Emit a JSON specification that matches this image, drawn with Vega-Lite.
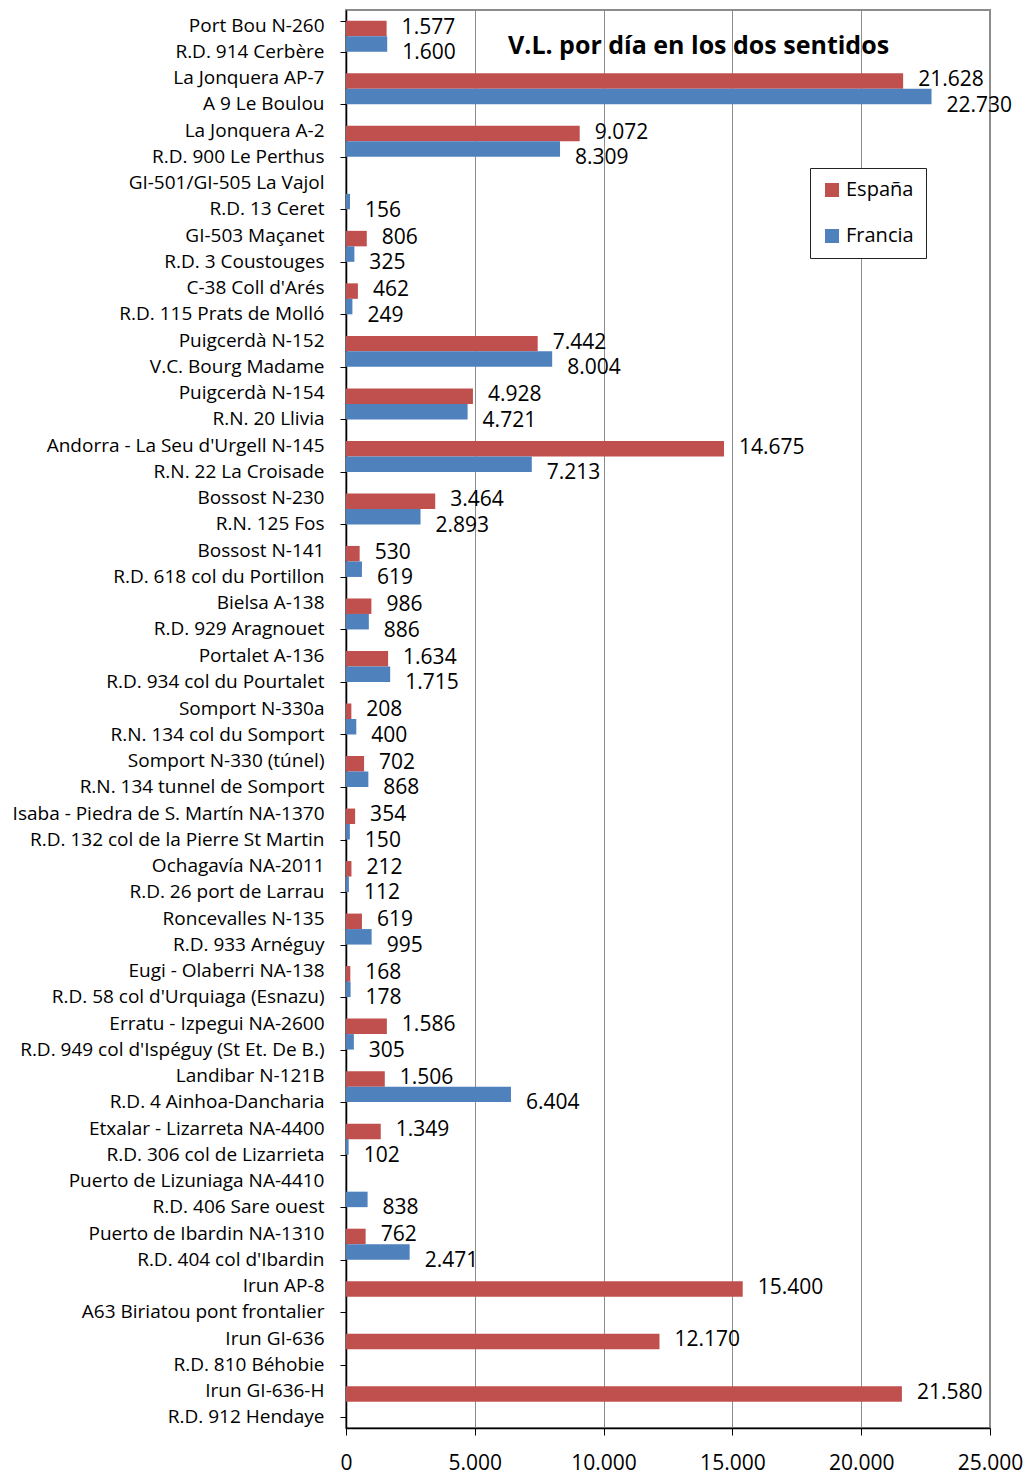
{
  "$schema": "https://vega.github.io/schema/vega-lite/v6.json",
  "autosize": "none",
  "width": 644,
  "height": 1418,
  "padding": {"left": 346, "top": 10, "right": 45, "bottom": 46},
  "background": "white",
  "title": {
    "text": "V.L. por día en los dos sentidos",
    "orient": "top",
    "anchor": "start",
    "frame": "group",
    "dx": 162,
    "offset": -58,
    "font": "Open Sans",
    "fontSize": 25,
    "fontWeight": "bold",
    "color": "black"
  },
  "data": {
    "values": [
      {"grupo": "Port Bou N-260|R.D. 914 Cerbère", "serie": "España", "valor": 1577},
      {"grupo": "Port Bou N-260|R.D. 914 Cerbère", "serie": "Francia", "valor": 1600},
      {"grupo": "La Jonquera AP-7|A 9 Le Boulou", "serie": "España", "valor": 21628},
      {"grupo": "La Jonquera AP-7|A 9 Le Boulou", "serie": "Francia", "valor": 22730},
      {"grupo": "La Jonquera A-2|R.D. 900 Le Perthus", "serie": "España", "valor": 9072},
      {"grupo": "La Jonquera A-2|R.D. 900 Le Perthus", "serie": "Francia", "valor": 8309},
      {"grupo": "GI-501/GI-505 La Vajol|R.D. 13 Ceret", "serie": "Francia", "valor": 156},
      {"grupo": "GI-503 Maçanet|R.D. 3 Coustouges", "serie": "España", "valor": 806},
      {"grupo": "GI-503 Maçanet|R.D. 3 Coustouges", "serie": "Francia", "valor": 325},
      {"grupo": "C-38 Coll d'Arés|R.D. 115 Prats de Molló", "serie": "España", "valor": 462},
      {"grupo": "C-38 Coll d'Arés|R.D. 115 Prats de Molló", "serie": "Francia", "valor": 249},
      {"grupo": "Puigcerdà N-152|V.C. Bourg Madame", "serie": "España", "valor": 7442},
      {"grupo": "Puigcerdà N-152|V.C. Bourg Madame", "serie": "Francia", "valor": 8004},
      {"grupo": "Puigcerdà N-154|R.N. 20 Llivia", "serie": "España", "valor": 4928},
      {"grupo": "Puigcerdà N-154|R.N. 20 Llivia", "serie": "Francia", "valor": 4721},
      {"grupo": "Andorra - La Seu d'Urgell N-145|R.N. 22 La Croisade", "serie": "España", "valor": 14675},
      {"grupo": "Andorra - La Seu d'Urgell N-145|R.N. 22 La Croisade", "serie": "Francia", "valor": 7213},
      {"grupo": "Bossost N-230|R.N. 125 Fos", "serie": "España", "valor": 3464},
      {"grupo": "Bossost N-230|R.N. 125 Fos", "serie": "Francia", "valor": 2893},
      {"grupo": "Bossost N-141|R.D. 618 col du Portillon", "serie": "España", "valor": 530},
      {"grupo": "Bossost N-141|R.D. 618 col du Portillon", "serie": "Francia", "valor": 619},
      {"grupo": "Bielsa A-138|R.D. 929 Aragnouet", "serie": "España", "valor": 986},
      {"grupo": "Bielsa A-138|R.D. 929 Aragnouet", "serie": "Francia", "valor": 886},
      {"grupo": "Portalet A-136|R.D. 934 col du Pourtalet", "serie": "España", "valor": 1634},
      {"grupo": "Portalet A-136|R.D. 934 col du Pourtalet", "serie": "Francia", "valor": 1715},
      {"grupo": "Somport N-330a|R.N. 134 col du Somport", "serie": "España", "valor": 208},
      {"grupo": "Somport N-330a|R.N. 134 col du Somport", "serie": "Francia", "valor": 400},
      {"grupo": "Somport N-330 (túnel)|R.N. 134 tunnel de Somport", "serie": "España", "valor": 702},
      {"grupo": "Somport N-330 (túnel)|R.N. 134 tunnel de Somport", "serie": "Francia", "valor": 868},
      {"grupo": "Isaba - Piedra de S. Martín NA-1370|R.D. 132 col de la Pierre St Martin", "serie": "España", "valor": 354},
      {"grupo": "Isaba - Piedra de S. Martín NA-1370|R.D. 132 col de la Pierre St Martin", "serie": "Francia", "valor": 150},
      {"grupo": "Ochagavía NA-2011|R.D. 26 port de Larrau", "serie": "España", "valor": 212},
      {"grupo": "Ochagavía NA-2011|R.D. 26 port de Larrau", "serie": "Francia", "valor": 112},
      {"grupo": "Roncevalles N-135|R.D. 933 Arnéguy", "serie": "España", "valor": 619},
      {"grupo": "Roncevalles N-135|R.D. 933 Arnéguy", "serie": "Francia", "valor": 995},
      {"grupo": "Eugi - Olaberri NA-138|R.D. 58 col d'Urquiaga (Esnazu)", "serie": "España", "valor": 168},
      {"grupo": "Eugi - Olaberri NA-138|R.D. 58 col d'Urquiaga (Esnazu)", "serie": "Francia", "valor": 178},
      {"grupo": "Erratu - Izpegui NA-2600|R.D. 949 col d'Ispéguy (St Et. De B.)", "serie": "España", "valor": 1586},
      {"grupo": "Erratu - Izpegui NA-2600|R.D. 949 col d'Ispéguy (St Et. De B.)", "serie": "Francia", "valor": 305},
      {"grupo": "Landibar N-121B|R.D. 4 Ainhoa-Dancharia", "serie": "España", "valor": 1506},
      {"grupo": "Landibar N-121B|R.D. 4 Ainhoa-Dancharia", "serie": "Francia", "valor": 6404},
      {"grupo": "Etxalar - Lizarreta NA-4400|R.D. 306 col de Lizarrieta", "serie": "España", "valor": 1349},
      {"grupo": "Etxalar - Lizarreta NA-4400|R.D. 306 col de Lizarrieta", "serie": "Francia", "valor": 102},
      {"grupo": "Puerto de Lizuniaga NA-4410|R.D. 406 Sare ouest", "serie": "Francia", "valor": 838},
      {"grupo": "Puerto de Ibardin NA-1310|R.D. 404 col d'Ibardin", "serie": "España", "valor": 762},
      {"grupo": "Puerto de Ibardin NA-1310|R.D. 404 col d'Ibardin", "serie": "Francia", "valor": 2471},
      {"grupo": "Irun AP-8|A63 Biriatou pont frontalier", "serie": "España", "valor": 15400},
      {"grupo": "Irun GI-636|R.D. 810 Béhobie", "serie": "España", "valor": 12170},
      {"grupo": "Irun GI-636-H|R.D. 912 Hendaye", "serie": "España", "valor": 21580}
    ]
  },
  "encoding": {
    "y": {
      "field": "grupo",
      "type": "nominal",
      "sort": null,
      "scale": {"paddingInner": 0.41, "paddingOuter": 0.205},
      "axis": {
        "title": null,
        "labelExpr": "split(datum.label, '|')",
        "labelFont": "Open Sans",
        "labelFontSize": 19,
        "labelColor": "black",
        "labelAlign": "right",
        "labelBaseline": "middle",
        "labelLineHeight": 26,
        "labelOffset": -11,
        "labelPadding": 16,
        "labelLimit": 500,
        "tickBand": "extent",
        "tickSize": 6,
        "tickColor": "black",
        "domainColor": "black",
        "domainWidth": 1.5,
        "grid": false
      }
    },
    "yOffset": {"field": "serie", "type": "nominal", "sort": ["España", "Francia"]},
    "x": {
      "field": "valor",
      "type": "quantitative",
      "scale": {"domain": [0, 25000], "nice": false},
      "axis": {
        "title": null,
        "values": [0, 5000, 10000, 15000, 20000, 25000],
        "format": ",d",
        "labelFont": "Open Sans",
        "labelFontSize": 21,
        "labelColor": "black",
        "labelPadding": 17,
        "labelFlush": false,
        "tickSize": 7,
        "tickColor": "black",
        "domainColor": "black",
        "domainWidth": 1.5,
        "grid": true,
        "gridColor": "#8c8c8c",
        "gridWidth": 1
      }
    }
  },
  "layer": [
    {
      "mark": {"type": "bar"},
      "encoding": {
        "color": {
          "field": "serie",
          "type": "nominal",
          "scale": {"domain": ["España", "Francia"], "range": ["#C0504D", "#4F81BD"]},
          "legend": {
            "title": null,
            "orient": "none",
            "legendX": 464,
            "legendY": 158,
            "direction": "vertical",
            "strokeColor": "#222222",
            "fillColor": "white",
            "padding": 12,
            "symbolType": "square",
            "symbolSize": 196,
            "symbolStrokeWidth": 0,
            "labelFont": "Open Sans",
            "labelFontSize": 20,
            "labelColor": "black",
            "labelOffset": 4,
            "rowPadding": 26
          }
        }
      }
    },
    {
      "transform": [{"filter": "datum.serie === 'España'"}],
      "mark": {"type": "text", "align": "left", "baseline": "middle", "dx": 15, "dy": -1, "font": "Open Sans", "fontSize": 21, "color": "black"},
      "encoding": {"text": {"field": "valor", "type": "quantitative", "format": ",d"}}
    },
    {
      "transform": [{"filter": "datum.serie === 'Francia'"}],
      "mark": {"type": "text", "align": "left", "baseline": "middle", "dx": 15, "dy": 9, "font": "Open Sans", "fontSize": 21, "color": "black"},
      "encoding": {"text": {"field": "valor", "type": "quantitative", "format": ",d"}}
    }
  ],
  "config": {
    "locale": {"number": {"decimal": ",", "thousands": ".", "grouping": [3], "currency": ["", " €"]}},
    "view": {"stroke": "#8c8c8c", "strokeWidth": 2},
    "axis": {"labelFont": "Open Sans"}
  }
}
